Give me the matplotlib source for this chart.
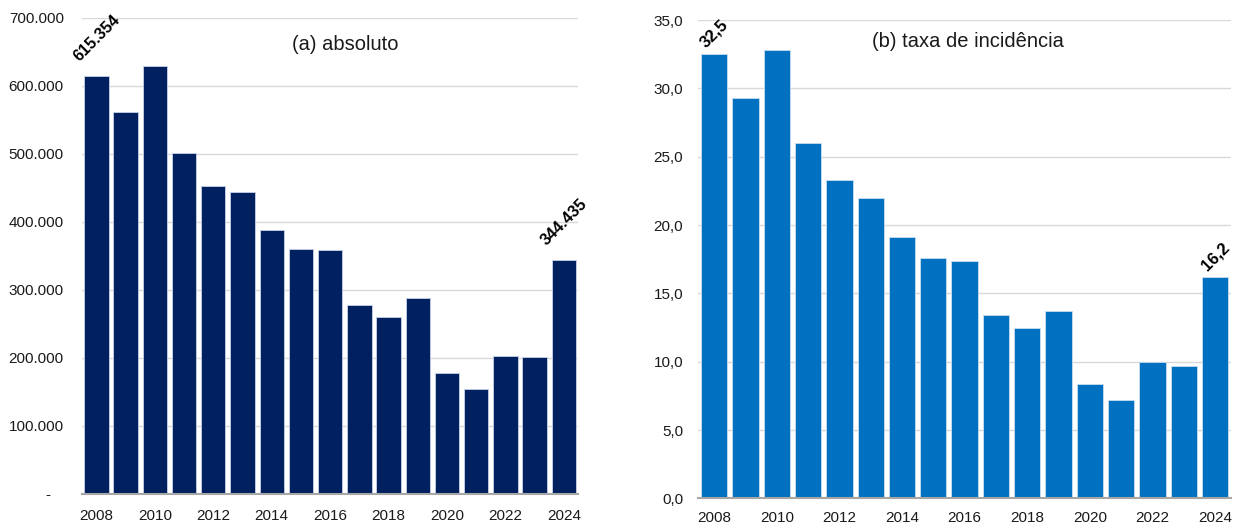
import matplotlib
matplotlib.use("Agg")
import matplotlib.pyplot as plt
import numpy as np

years = list(range(2008, 2025))
absoluto = [615354, 561300, 629400, 502000, 453000, 443500, 388500, 360000, 358800,
            278000, 260000, 288000, 178000, 154500, 203000, 202000, 344435]
taxa = [32.5, 29.3, 32.8, 26.0, 23.3, 22.0, 19.1, 17.6, 17.4,
        13.4, 12.5, 13.7, 8.4, 7.2, 10.0, 9.7, 16.2]
xtick_years = [2008, 2010, 2012, 2014, 2016, 2018, 2020, 2022, 2024]
left_ticks = [0, 100000, 200000, 300000, 400000, 500000, 600000, 700000]
right_ticks = [0, 5, 10, 15, 20, 25, 30, 35]
title_a = "(a) absoluto"
title_b = "(b) taxa de incidência"

plt.rcParams['font.family'] = ['Liberation Sans', 'DejaVu Sans']

fig = plt.figure(figsize=(12.4, 5.29), dpi=100)
axA = fig.add_axes([0.066, 0.0662, 0.4005, 0.8998])
axB = fig.add_axes([0.5633, 0.058, 0.4292, 0.904])

x = np.arange(len(years))


def fmt_thousands(v):
    return f"{int(round(v)):,}".replace(",", ".")


def fmt_dec(v):
    return f"{v:.1f}".replace(".", ",")


def style(ax, ylim, ticks, labels, ypad, xpad):
    ax.set_xlim(-0.5, len(years) - 0.5)
    ax.set_ylim(*ylim)
    ax.set_yticks(ticks)
    ax.set_yticklabels(labels)
    ax.set_xticks([years.index(y) for y in xtick_years])
    ax.set_xticklabels([str(y) for y in xtick_years])
    for s in ['top', 'right', 'left']:
        ax.spines[s].set_visible(False)
    ax.spines['bottom'].set_color('#a6a6a6')
    ax.spines['bottom'].set_linewidth(1.5)
    ax.spines['bottom'].set_zorder(5)
    ax.tick_params(axis='y', length=0, pad=ypad, labelsize=11, labelcolor='#1a1a1a')
    ax.tick_params(axis='x', length=0, pad=xpad, labelsize=11, labelcolor='#1a1a1a')
    ax.grid(axis='y', color='#d9d9d9', linewidth=1.0)
    ax.set_axisbelow(True)


# Panel (a)
axA.bar(x, absoluto, width=0.835, color='#002060', edgecolor='#c9d3e8', linewidth=0.6, zorder=3)
la = [fmt_thousands(v) for v in left_ticks]
la[0] = "-   "
style(axA, (0, 700000), left_ticks, la, 13, 11)
for i in (0, len(years) - 1):
    axA.annotate(fmt_thousands(absoluto[i]), (x[i], absoluto[i]), xytext=(0, 27),
                 textcoords='offset points', rotation=45, ha='center', va='center',
                 fontsize=11.5, fontweight='bold', color='black')
axA.text(0.53, 0.945, title_a, transform=axA.transAxes, ha='center', va='center',
         fontsize=14.5, color='#1a1a1a')

# Panel (b)
axB.bar(x, taxa, width=0.84, color='#0070C0', edgecolor='#c9ddef', linewidth=0.6, zorder=3)
style(axB, (0, 35), right_ticks, [fmt_dec(v) for v in right_ticks], 11, 9)
for i in (0, len(years) - 1):
    axB.annotate(fmt_dec(taxa[i]), (x[i], taxa[i]), xytext=(0, 15),
                 textcoords='offset points', rotation=45, ha='center', va='center',
                 fontsize=12, fontweight='bold', color='black')
axB.text(0.507, 0.955, title_b, transform=axB.transAxes, ha='center', va='center',
         fontsize=14.5, color='#1a1a1a')

fig.savefig("out.png", dpi=100)
